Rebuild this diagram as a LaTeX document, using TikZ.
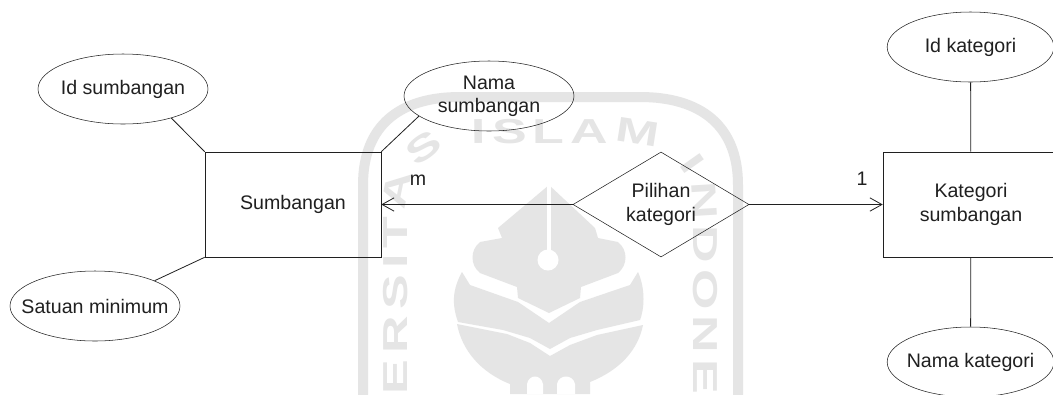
\documentclass[tikz,border=0pt]{standalone}
\usepackage{fontspec}
\setmainfont{Liberation Sans}
\newfontfamily\wmfont[FakeStretch=1.5]{Liberation Sans}
\usetikzlibrary{shapes.geometric,arrows.meta,decorations.text}
\definecolor{wmark}{HTML}{E5E5E5}
\definecolor{ink}{HTML}{202020}
\tikzset{
    lbl/.style={font=\fontsize{14.7}{17.5}\selectfont, text=ink, align=center, inner sep=0pt},
    attr/.style={lbl, draw=ink, ellipse, inner xsep=-14pt, minimum width=127.5pt, minimum height=52.5pt},
    entity/.style={lbl, draw=ink, rectangle, minimum width=132pt, minimum height=78.75pt},
    rel/.style={lbl, draw=ink, diamond, shape aspect=1.68, minimum width=132pt, minimum height=78.75pt},
    conn/.style={draw=ink, line width=0.6pt},
    >={Straight Barb[length=9pt, width=10pt]}
}
\begin{document}
\begin{tikzpicture}[x=0.75pt, y=-0.75pt]
    \useasboundingbox (0,0) rectangle (1053,394);
    \clip (0,0) rectangle (1053,394);
    \fill[white] (0,0) rectangle (1053,394);

    \draw[wmark, line width=7.5pt] (363,420) -- (363,185) .. controls (363,125) and (400,97) .. (460,97) -- (640,97) .. controls (700,97) and (738,125) .. (738,185) -- (738,420);
    \path[decorate, decoration={text along path, text align=fit to path, text color=wmark,
        text={|\wmfont\bfseries\fontsize{26}{26}\selectfont|ERSITAS ISLAM INDONE}}]
        (407,394) -- (407,205) .. controls (407,165) and (440,143) .. (480,143) -- (620,143) .. controls (660,143) and (693,165) .. (693,205) -- (693,394);

    \fill[wmark] (549,185) -- (498,228) -- (502,238) -- (480,242) .. controls (470,250) and (470,265) .. (480,273) -- (517,287) -- (518,298) -- (549,313) -- (580,298) -- (581,287) -- (618,273) .. controls (628,265) and (628,250) .. (618,242) -- (598,238) -- (595,228) -- cycle;
    \fill[white] (547,185) rectangle (551,250);
    \fill[white] (548,260) circle (10.5);
    \fill[wmark] (462,272) -- (470,285) -- (518,302) -- (549,323) -- (580,302) -- (630,285) -- (638,272) .. controls (646,290) and (644,310) .. (640,320) -- (597,330) -- (570,338) -- (550,349) -- (530,338) -- (503,330) -- (458,322) .. controls (452,305) and (452,290) .. (462,272) -- cycle;
    \fill[wmark] (457,324) -- (507,334) -- (530,343) -- (550,356) -- (570,345) -- (597,335) -- (643,325) .. controls (638,350) and (620,370) .. (590,382) -- (590,394) -- (510,394) -- (510,384) .. controls (480,372) and (462,350) .. (457,324) -- cycle;
    \fill[white] (527,394) -- (527,384) .. controls (529,374) and (541,374) .. (543,384) -- (543,394) -- cycle;
    \fill[white] (557,394) -- (557,384) .. controls (559,374) and (573,374) .. (575,384) -- (575,394) -- cycle;

    \node[attr] (idsumb) at (123,89) {Id sumbangan};
    \node[attr] (satuan) at (95,306) {Satuan minimum};
    \node[attr] (namasumb) at (489,96) {Nama\\sumbangan};
    \node[attr, minimum width=125pt] (idkat) at (970.5,47) {Id kategori};
    \node[attr, minimum width=125pt] (namakat) at (970.5,362) {Nama kategori};
    \node[entity] (sumb) at (293,204.5) {Sumbangan};
    \node[entity] (kat) at (971,204.5) {Kategori\\sumbangan};
    \node[rel] (pilihan) at (661,204.5) {Pilihan\\kategori};
    \node[lbl] (cardm) at (418,180) {m};
    \node[lbl] (card1) at (862,179) {1};

    \draw[conn] (idsumb.-31) -- (sumb.north west);
    \draw[conn] (satuan.23) -- (sumb.south west);
    \draw[conn] (namasumb.196) -- (sumb.north east);
    \draw[conn] (idkat) -- (kat);
    \draw[conn] (namakat) -- (kat);
    \draw[conn,->] (pilihan) -- (sumb);
    \draw[conn,->] (pilihan) -- (kat);
\end{tikzpicture}
\end{document}
